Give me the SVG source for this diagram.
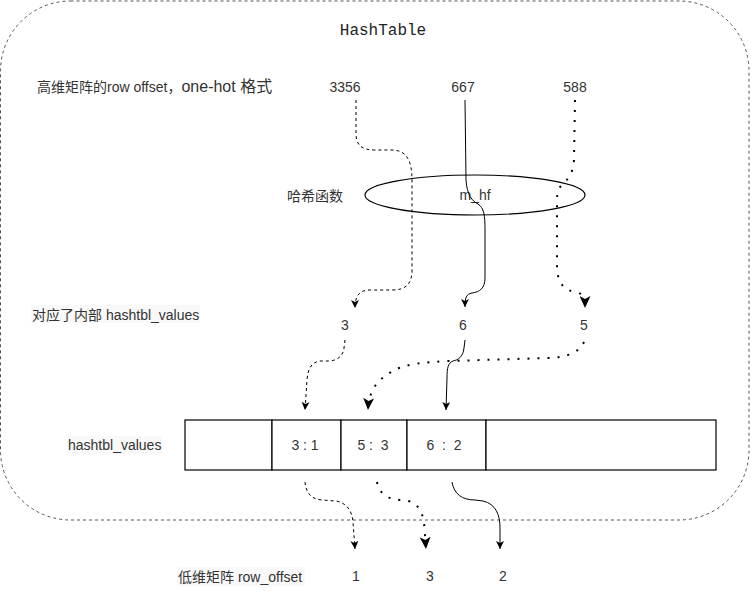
<svg xmlns="http://www.w3.org/2000/svg" width="751" height="591" viewBox="0 0 751 591">
<style>
text{font-family:"Liberation Sans",Arial,"Noto Sans CJK SC",sans-serif;font-size:14px;fill:#333}
.mono{font-family:"Liberation Mono","DejaVu Sans Mono",monospace;font-size:16px;fill:#222}
.c{text-anchor:middle}
.pre{white-space:pre}
.cell{fill:#fff;stroke:#000;stroke-width:1.2}
.dash{fill:none;stroke:#000;stroke-width:1;stroke-dasharray:3 3}
.dot{fill:none;stroke:#000;stroke-width:2;stroke-dasharray:2 8}
.solid{fill:none;stroke:#000;stroke-width:1}
.lbg{fill:#f9f9f9}
</style>
<defs>
<marker id="arS" markerUnits="userSpaceOnUse" markerWidth="9" markerHeight="8" refX="8" refY="4" orient="auto" viewBox="0 0 9 8">
<path d="M0,0 L8,4 L0,8 L2,4 z" fill="#000"/>
</marker>
<marker id="arB" markerUnits="userSpaceOnUse" markerWidth="13" markerHeight="11" refX="12" refY="5.5" orient="auto" viewBox="0 0 13 11">
<path d="M0,0 L12,5.5 L0,11 L3,5.5 z" fill="#000"/>
</marker>
</defs>
<g id="hashtable">
<rect x="0.5" y="1" width="748.5" height="519" rx="70" ry="70" fill="none" stroke="#555" stroke-width="1" stroke-dasharray="3 3"/>
<text class="mono c" x="383" y="35">HashTable</text>
</g>
<g id="label-high">
<text x="37" y="92">高维矩阵的row offset，<tspan font-size="16">one-hot 格式</tspan></text>
</g>
<g id="n3356"><text class="c" x="345" y="92">3356</text></g>
<g id="n667"><text class="c" x="463" y="92">667</text></g>
<g id="n588"><text class="c" x="575" y="92">588</text></g>
<g id="label-hash"><text x="287" y="201">哈希函数</text></g>
<g id="m_hf">
<ellipse cx="475" cy="195" rx="110" ry="20" fill="none" stroke="#000" stroke-width="1.2"/>
<text class="c" x="475" y="200">m_hf</text>
</g>
<g id="label-inner">
<rect class="lbg" x="31" y="305" width="169" height="18"/>
<text x="32" y="320">对应了内部 hashtbl_values</text>
</g>
<g id="v3"><text class="c" x="345" y="330">3</text></g>
<g id="v6"><text class="c" x="463" y="330">6</text></g>
<g id="v5"><text class="c" x="584" y="330">5</text></g>
<g id="label-values">
<rect class="lbg" x="67" y="436" width="95" height="18"/>
<text x="68" y="450">hashtbl_values</text>
</g>
<g id="hashtbl_values">
<rect class="cell" x="185" y="420" width="87" height="50"/>
<rect class="cell" x="272" y="420" width="69" height="50"/>
<rect class="cell" x="341" y="420" width="66" height="50"/>
<rect class="cell" x="407" y="420" width="79" height="50"/>
<rect class="cell" x="486" y="420" width="230" height="50"/>
<text class="c pre" x="305" y="450" fill="#444" xml:space="preserve">3 : 1</text>
<text class="c pre" x="373" y="450" fill="#444" xml:space="preserve">5 :  3</text>
<text class="c pre" x="444" y="450" fill="#444" xml:space="preserve">6  :  2</text>
</g>
<g id="label-low">
<rect class="lbg" x="177" y="567" width="128" height="19"/>
<text x="178" y="582">低维矩阵 row_offset</text>
</g>
<g id="r1"><text class="c" x="356" y="581">1</text></g>
<g id="r3"><text class="c" x="430" y="581">3</text></g>
<g id="r2"><text class="c" x="503" y="581">2</text></g>
<g id="connectors">
<path class="dash" marker-end="url(#arS)" d="M356,100 L356,133 C356,146 362,150 375,150 L392,150 C406,150 412,160 412,180 L412,270 C412,284 406,290 392,290 L370,290 C360,290 355,295 355,308"/>
<path class="solid" marker-end="url(#arS)" d="M465,100 L466,180 C467,195 472,201 478,204 C484,208 485,215 485,230 L485,278 C485,288 480,292 472,293 C466,294 465,298 465,307"/>
<path class="dot" marker-end="url(#arB)" d="M575,100 L574,160 C573,175 567,180 561,186 C557,190 557,196 557,205 L557,265 C557,282 563,290 575,292 C582,293 585,296 585,308"/>
<path class="dash" marker-end="url(#arS)" d="M345,340 L344,348 C343,356 338,360 330,361 L320,361 C312,362 308,368 307,380 L305,410"/>
<path class="dot" marker-end="url(#arB)" d="M584,342 C579,352 570,357 548,358 L450,361 C425,362 405,364 393,371 C375,381 369,392 368,410"/>
<path class="solid" marker-end="url(#arS)" d="M465,340 L464,348 C463,357 458,360 453,361 C448,363 447,368 447,378 L446,410"/>
<path class="dash" marker-end="url(#arS)" d="M305,482 C306,492 310,499 322,500 L336,501 C347,503 352,511 353,522 L355,549"/>
<path class="dot" marker-end="url(#arB)" d="M377,482 C379,494 388,499 400,500 L408,501 C418,503 422,512 424,522 L426,549"/>
<path class="solid" marker-end="url(#arS)" d="M452,482 C454,494 462,500 475,500 L483,501 C496,504 500,515 500,528 L500,549"/>
</g>
</svg>
